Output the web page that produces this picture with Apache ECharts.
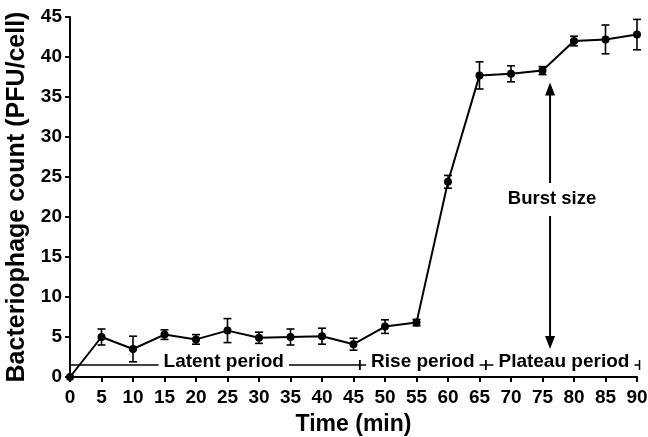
<!DOCTYPE html>
<html>
<head>
<meta charset="utf-8">
<script src="https://cdn.jsdelivr.net/npm/echarts@6/dist/echarts.min.js"></script>
<style>
html,body{margin:0;padding:0;background:#fff;}
#chart{width:648px;height:437px;}
</style>
</head>
<body>
<div id="chart"></div>
<script>
// ---- data ----
const times  = [0, 5, 10, 15, 20, 25, 30, 35, 40, 45, 50, 55, 60, 65, 70, 75, 80, 85, 90];
const counts = [0, 5.0, 3.5, 5.3, 4.7, 5.8, 4.9, 5.0, 5.1, 4.1, 6.3, 6.8, 24.4, 37.7, 37.9, 38.3, 42.0, 42.2, 42.8];
const errors = [0, 1.0, 1.6, 0.6, 0.6, 1.5, 0.7, 1.0, 1.0, 0.75, 0.85, 0.4, 0.8, 1.7, 1.0, 0.5, 0.6, 1.8, 1.9];

const periodNames  = ['Latent period', 'Rise period', 'Plateau period'];
const periodStarts = [0, 46, 66];
const periodEnds   = [46, 66, 90.4];
const periodLabelAt = [24.4, 56, 78.4];
const periodLevel = 1.5;

const burstLabel = 'Burst size';
const burstTime = 76.2;
const burstFrom = 3.5;
const burstTo = 36.8;
const burstLabelAt = 22.2;

const xTicks = {min: 0, max: 90, step: 5};
const yTicks = {min: 0, max: 45, step: 5};

// ---- build ----
const FONT = 'Liberation Sans, Arial, sans-serif';
const lineData = times.map((t, i) => [t, counts[i]]);
const errData = times.map((t, i) => [t, counts[i] - errors[i], counts[i] + errors[i]]);
const periodData = periodNames.map((n, i) => [periodStarts[i], periodEnds[i], periodLabelAt[i], i]);

const chart = echarts.init(document.getElementById('chart'));
chart.setOption({
  animation: false,
  backgroundColor: '#fff',
  grid: {left: 70, right: 11, top: 17, bottom: 60, containLabel: false, outerBoundsMode: 'none'},
  xAxis: {
    type: 'value', min: xTicks.min, max: xTicks.max, interval: xTicks.step,
    name: 'Time (min)', nameLocation: 'middle', nameGap: 36,
    nameTextStyle: {fontFamily: FONT, fontWeight: 'bold', fontSize: 23, color: '#000'},
    axisLine: {show: true, lineStyle: {color: '#000', width: 2}},
    axisTick: {show: true, inside: false, length: 5, lineStyle: {color: '#000', width: 2}},
    axisLabel: {fontFamily: FONT, fontWeight: 'bold', fontSize: 19, color: '#000', margin: 11},
    splitLine: {show: false}
  },
  yAxis: {
    type: 'value', min: yTicks.min, max: yTicks.max, interval: yTicks.step,
    name: 'Bacteriophage count (PFU/cell)', nameLocation: 'middle', nameGap: 38,
    nameTextStyle: {fontFamily: FONT, fontWeight: 'bold', fontSize: 25, color: '#000'},
    axisLine: {show: true, lineStyle: {color: '#000', width: 2}},
    axisTick: {show: true, inside: false, length: 5, lineStyle: {color: '#000', width: 2}},
    axisLabel: {fontFamily: FONT, fontWeight: 'bold', fontSize: 19, color: '#000', margin: 8},
    splitLine: {show: false}
  },
  series: [
    {
      type: 'custom', clip: false, z: 3,
      data: errData,
      renderItem: function (params, api) {
        const x = api.value(0);
        const lo = api.coord([x, api.value(1)]);
        const hi = api.coord([x, api.value(2)]);
        const w = 4;
        const st = {stroke: '#000', lineWidth: 1.6};
        return {type: 'group', children: [
          {type: 'line', shape: {x1: lo[0], y1: lo[1], x2: hi[0], y2: hi[1]}, style: st},
          {type: 'line', shape: {x1: lo[0] - w, y1: lo[1], x2: lo[0] + w, y2: lo[1]}, style: st},
          {type: 'line', shape: {x1: hi[0] - w, y1: hi[1], x2: hi[0] + w, y2: hi[1]}, style: st}
        ]};
      }
    },
    {
      type: 'line', data: lineData, clip: false, z: 4,
      symbol: 'circle', symbolSize: 8, showAllSymbol: true,
      lineStyle: {color: '#000', width: 2},
      itemStyle: {color: '#000'}
    },
    {
      type: 'custom', clip: false, z: 5,
      data: periodData,
      renderItem: function (params, api) {
        const s = api.coord([api.value(0), periodLevel]);
        const e = api.coord([api.value(1), periodLevel]);
        const m = api.coord([api.value(2), periodLevel]);
        const idx = api.value(3);
        const st = {stroke: '#000', lineWidth: 1.5};
        const h = 5;
        return {type: 'group', children: [
          {type: 'line', shape: {x1: s[0], y1: s[1], x2: e[0], y2: e[1]}, style: st},
          {type: 'line', shape: {x1: s[0], y1: s[1] - h, x2: s[0], y2: s[1] + h}, style: st},
          {type: 'line', shape: {x1: e[0], y1: e[1] - h, x2: e[0], y2: e[1] + h}, style: st},
          {type: 'text', x: m[0], y: m[1] - 3, style: {
            text: periodNames[idx], fill: '#000', font: 'bold 19px ' + FONT,
            align: 'center', verticalAlign: 'middle',
            backgroundColor: '#fff', padding: [1, 5]
          }}
        ]};
      }
    },
    {
      type: 'custom', clip: false, z: 5,
      data: [[burstTime, burstFrom, burstTo, burstLabelAt]],
      renderItem: function (params, api) {
        const x = api.value(0);
        const b = api.coord([x, api.value(1)]);
        const t = api.coord([x, api.value(2)]);
        const l = api.coord([x, api.value(3)]);
        const hw = 5, hl = 13;
        return {type: 'group', children: [
          {type: 'line', shape: {x1: t[0], y1: t[1] + hl - 2, x2: b[0], y2: b[1] - hl + 2}, style: {stroke: '#000', lineWidth: 2}},
          {type: 'polygon', shape: {points: [[t[0], t[1]], [t[0] - hw, t[1] + hl], [t[0] + hw, t[1] + hl]]}, style: {fill: '#000'}},
          {type: 'polygon', shape: {points: [[b[0], b[1]], [b[0] - hw, b[1] - hl], [b[0] + hw, b[1] - hl]]}, style: {fill: '#000'}},
          {type: 'text', x: l[0] + 2, y: l[1], style: {
            text: burstLabel, fill: '#000', font: 'bold 18.5px ' + FONT,
            align: 'center', verticalAlign: 'middle',
            backgroundColor: '#fff', padding: [7, 2]
          }}
        ]};
      }
    }
  ]
});
</script>
</body>
</html>
